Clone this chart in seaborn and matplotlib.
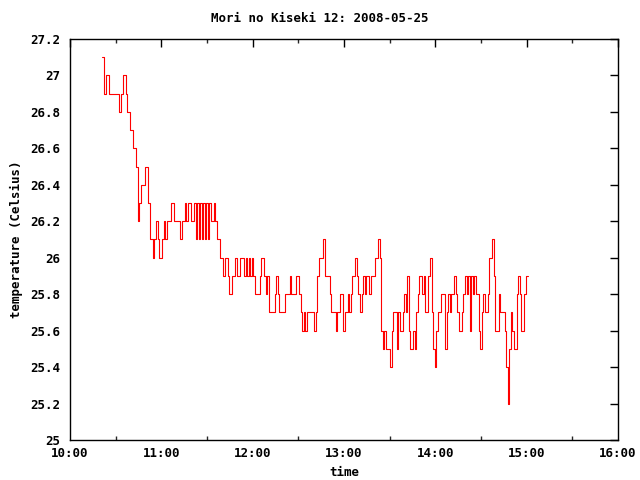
import matplotlib
matplotlib.use("Agg")
import matplotlib.pyplot as plt
import matplotlib.dates as mdates
import seaborn as sns
import pandas as pd
import numpy as np

# ---- data (one sample per minute starting 10:21) ----
start_time = "2008-05-25 10:21"
temperature = [
    27.1, 27.1, 26.9, 27.0, 27.0, 26.9, 26.9, 26.9, 26.9, 26.9,
    26.9, 26.9, 26.8, 26.9, 27.0, 27.0, 26.9, 26.8, 26.8, 26.7,
    26.7, 26.6, 26.6, 26.5, 26.2, 26.3, 26.4, 26.4, 26.4, 26.5,
    26.5, 26.3, 26.1, 26.1, 26.0, 26.1, 26.2, 26.1, 26.0, 26.0,
    26.1, 26.2, 26.1, 26.2, 26.2, 26.2, 26.3, 26.3, 26.2, 26.2,
    26.2, 26.2, 26.1, 26.2, 26.2, 26.3, 26.2, 26.3, 26.3, 26.2,
    26.2, 26.3, 26.1, 26.3, 26.1, 26.3, 26.1, 26.3, 26.1, 26.3,
    26.1, 26.3, 26.2, 26.2, 26.3, 26.2, 26.1, 26.1, 26.0, 26.0,
    25.9, 26.0, 26.0, 25.9, 25.8, 25.8, 25.9, 25.9, 26.0, 25.9,
    25.9, 26.0, 26.0, 26.0, 25.9, 26.0, 25.9, 26.0, 25.9, 26.0,
    25.9, 25.8, 25.8, 25.8, 25.9, 26.0, 26.0, 25.9, 25.8, 25.9,
    25.7, 25.7, 25.7, 25.7, 25.8, 25.9, 25.8, 25.7, 25.7, 25.7,
    25.7, 25.8, 25.8, 25.8, 25.9, 25.8, 25.8, 25.8, 25.9, 25.9,
    25.8, 25.7, 25.6, 25.7, 25.6, 25.7, 25.7, 25.7, 25.7, 25.7,
    25.6, 25.7, 25.9, 26.0, 26.0, 26.0, 26.1, 25.9, 25.9, 25.9,
    25.8, 25.7, 25.7, 25.7, 25.6, 25.7, 25.7, 25.8, 25.8, 25.6,
    25.7, 25.7, 25.8, 25.7, 25.8, 25.9, 25.9, 26.0, 25.9, 25.8,
    25.7, 25.8, 25.9, 25.8, 25.9, 25.9, 25.8, 25.9, 25.9, 25.9,
    26.0, 26.0, 26.1, 26.0, 25.6, 25.5, 25.6, 25.5, 25.5, 25.5,
    25.4, 25.6, 25.7, 25.7, 25.5, 25.7, 25.6, 25.6, 25.7, 25.8,
    25.7, 25.9, 25.6, 25.5, 25.5, 25.6, 25.5, 25.7, 25.8, 25.9,
    25.9, 25.8, 25.9, 25.7, 25.7, 25.9, 26.0, 25.7, 25.5, 25.4,
    25.6, 25.7, 25.7, 25.8, 25.8, 25.8, 25.5, 25.7, 25.8, 25.7,
    25.8, 25.8, 25.9, 25.8, 25.7, 25.6, 25.6, 25.7, 25.8, 25.9,
    25.8, 25.9, 25.6, 25.9, 25.8, 25.9, 25.8, 25.8, 25.6, 25.5,
    25.7, 25.8, 25.7, 25.7, 25.8, 26.0, 26.0, 26.1, 25.9, 25.6,
    25.6, 25.8, 25.7, 25.7, 25.7, 25.6, 25.4, 25.2, 25.5, 25.7,
    25.6, 25.5, 25.5, 25.8, 25.9, 25.8, 25.6, 25.6, 25.8, 25.9,
    25.9,
]
x_range = ["2008-05-25 10:00", "2008-05-25 16:00"]
y_ticks = [25.0, 25.2, 25.4, 25.6, 25.8, 26.0, 26.2, 26.4, 26.6, 26.8, 27.0, 27.2]
title = "Mori no Kiseki 12: 2008-05-25"

df = pd.DataFrame({
    "time": pd.date_range(start_time, periods=len(temperature), freq="1min"),
    "temperature": temperature,
})

sns.set_style("white")
plt.rcParams["font.family"] = ["DejaVu Sans Mono", "DejaVu Sans"]
plt.rcParams["font.weight"] = "bold"

fig = plt.figure(figsize=(6.4, 4.8), dpi=100)
ax = fig.add_axes([70 / 640, 40 / 480, 548 / 640, 401 / 480])

sns.lineplot(data=df, x="time", y="temperature", ax=ax, color="#ff0000",
             linewidth=0.8, estimator=None, drawstyle="steps-mid")

ax.set_xlim(pd.Timestamp(x_range[0]), pd.Timestamp(x_range[1]))
ax.set_ylim(25.0, 27.2)
ax.set_yticks(y_ticks)
ax.set_yticklabels([f"{v:g}" for v in y_ticks])
ax.xaxis.set_major_locator(mdates.HourLocator())
ax.xaxis.set_minor_locator(mdates.MinuteLocator(byminute=[30]))
ax.xaxis.set_major_formatter(mdates.DateFormatter("%H:%M"))
ax.yaxis.set_minor_locator(matplotlib.ticker.NullLocator())

for s in ax.spines.values():
    s.set_color("black")
    s.set_linewidth(1.0)

ax.tick_params(axis="both", which="major", direction="in", length=6, width=1,
               top=True, right=True, labelsize=9, colors="black")
ax.tick_params(axis="x", which="minor", direction="in", length=3, width=1,
               top=True, bottom=True)
ax.tick_params(axis="y", which="major", pad=7)
ax.tick_params(axis="x", which="major", pad=5)

ax.set_xlabel("time", fontsize=9, fontweight="bold", labelpad=4, color="black")
ax.set_ylabel("temperature (Celsius)", fontsize=9, fontweight="bold", labelpad=5,
              color="black")
fig.text(0.5, 1 - 18 / 480, title, ha="center", va="center", fontsize=9,
         fontweight="bold", color="black")
ax.grid(False)

fig.savefig("out.png", dpi=100, facecolor="white")
